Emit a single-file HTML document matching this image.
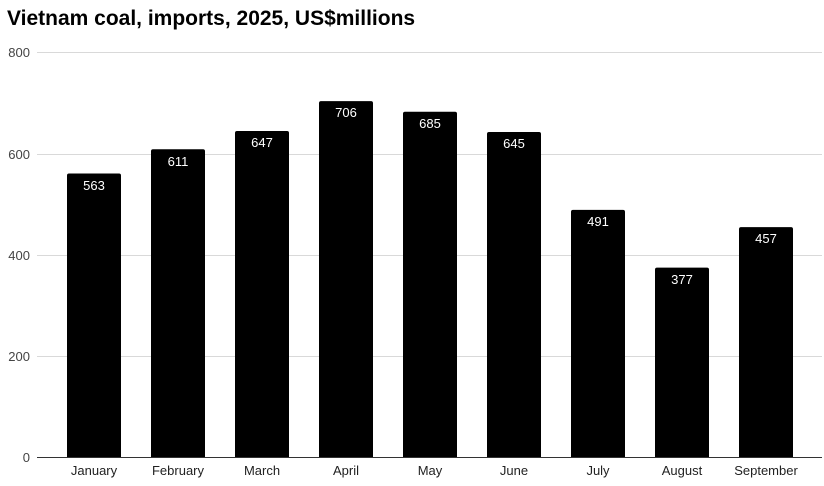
<!DOCTYPE html>
<html><head><style>
body{margin:0;background:#fff;width:824px;height:481px;overflow:hidden}
svg{font-family:"Liberation Sans",Arial,sans-serif}
</style></head><body>
<svg width="824" height="481" xmlns="http://www.w3.org/2000/svg">
<text x="7" y="25" font-size="21" font-weight="bold" fill="#000">Vietnam coal, imports, 2025, US$millions</text>
<g stroke="#d9d9d9" stroke-width="1">
<line x1="37" x2="822" y1="52.5" y2="52.5"/>
<line x1="37" x2="822" y1="154.5" y2="154.5"/>
<line x1="37" x2="822" y1="255.5" y2="255.5"/>
<line x1="37" x2="822" y1="356.5" y2="356.5"/>
</g>
<g font-size="13" fill="#444" text-anchor="end">
<text x="30" y="57">800</text>
<text x="30" y="159">600</text>
<text x="30" y="260">400</text>
<text x="30" y="361">200</text>
<text x="30" y="462">0</text>
</g>
<g fill="#000">
<rect x="67" y="173.5" width="54" height="290" rx="2"/>
<rect x="151" y="149.2" width="54" height="314" rx="2"/>
<rect x="235" y="131" width="54" height="332" rx="2"/>
<rect x="319" y="101.1" width="54" height="362" rx="2"/>
<rect x="403" y="111.7" width="54" height="352" rx="2"/>
<rect x="487" y="132" width="54" height="331" rx="2"/>
<rect x="571" y="209.9" width="54" height="253" rx="2"/>
<rect x="655" y="267.6" width="54" height="195" rx="2"/>
<rect x="739" y="227.1" width="54" height="236" rx="2"/>
</g>
<rect x="37" y="458" width="787" height="23" fill="#fff"/>
<line x1="37" x2="822" y1="457.5" y2="457.5" stroke="#333" stroke-width="1"/>
<g font-size="13" fill="#fff" text-anchor="middle">
<text x="94" y="190">563</text>
<text x="178" y="166">611</text>
<text x="262" y="147">647</text>
<text x="346" y="117">706</text>
<text x="430" y="128">685</text>
<text x="514" y="148">645</text>
<text x="598" y="226">491</text>
<text x="682" y="284">377</text>
<text x="766" y="243">457</text>
</g>
<g font-size="13" fill="#222" text-anchor="middle">
<text x="94" y="475">January</text>
<text x="178" y="475">February</text>
<text x="262" y="475">March</text>
<text x="346" y="475">April</text>
<text x="430" y="475">May</text>
<text x="514" y="475">June</text>
<text x="598" y="475">July</text>
<text x="682" y="475">August</text>
<text x="766" y="475">September</text>
</g>
</svg>
</body></html>
